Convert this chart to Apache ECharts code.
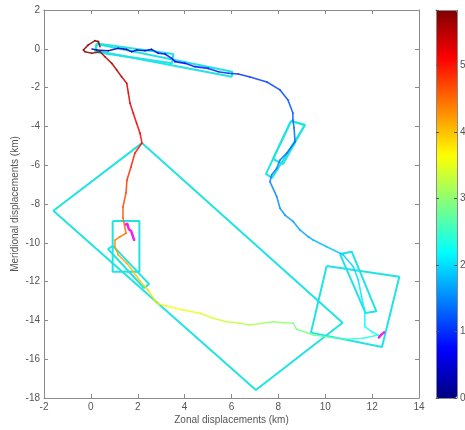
<!DOCTYPE html>
<html><head><meta charset="utf-8">
<script src="https://cdn.jsdelivr.net/npm/echarts@6/dist/echarts.min.js"></script>
<style>html,body{margin:0;padding:0;background:#fff}#c{width:465px;height:430px}</style>
</head><body><div id="c"></div>
<script>
// Trajectory (km) and time (colour value)
const trajX = [0.05,0.25,0.74,1.17,1.53,1.74,1.95,2.31,2.59,2.88,3.16,3.45,3.59,4.02,4.44,5.01,5.44,5.86,6.29,
  6.79,7.51,8.07,8.41,8.62,8.62,8.67,8.71,8.35,8.07,7.93,7.71,7.64,7.93,8.07,8.28,8.64,8.92,9.28,9.49,10.06,10.63,
  10.77,11.20,11.41,11.55,11.69,11.69,11.98,12.26,
  11.62,10.91,10.20,9.49,8.78,8.64,8.21,7.78,7.36,6.79,6.36,5.79,5.22,4.66,3.94,3.23,2.81,2.44,2.10,1.81,1.53,1.17,1.03,1.03,1.24,1.50,
  1.37,1.37,1.50,1.54,1.71,1.88,2.18,2.10,1.95,1.81,1.67,1.60,1.53,1.31,1.10,0.89,0.60,0.39,
  0.04,-0.25,-0.32,-0.11,0.18,0.32,0.39];
const trajY = [-0.01,-0.06,-0.10,0.03,-0.03,-0.15,-0.06,-0.10,-0.03,-0.23,-0.27,-0.49,-0.66,-0.75,-0.92,-1.01,-1.18,-1.26,-1.30,
  -1.45,-1.71,-2.12,-2.64,-3.31,-3.67,-4.08,-4.79,-5.39,-5.73,-6.16,-6.51,-6.85,-7.62,-8.22,-8.57,-8.91,-9.34,-9.69,-9.86,-10.20,-10.54,
  -10.63,-11.23,-11.92,-12.78,-13.55,-14.32,-14.58,-14.75,
  -14.92,-14.97,-14.87,-14.75,-14.46,-14.15,-14.12,-14.07,-14.15,-14.24,-14.15,-14.07,-13.89,-13.63,-13.46,-13.26,-13.12,-12.43,-11.97,-11.49,-11.06,-10.63,-10.20,-9.86,-9.69,-9.51,
  -8.72,-8.15,-7.43,-6.76,-6.09,-5.37,-4.86,-4.36,-3.84,-3.32,-2.81,-2.29,-1.78,-1.44,-1.09,-0.75,-0.41,-0.15,
  -0.23,-0.15,-0.06,0.20,0.42,0.37,0.11];
const trajT = [2,2.5,3,3.5,4,4.4,4.8,5.2,5.6,6,6.4,6.8,7.1,7.5,8,8.5,9,9.5,10,
  10.4,10.8,11.2,11.6,12,12.3,12.6,13,13.3,13.6,14,14.3,14.5,15,15.4,15.8,16.2,16.6,17,17.3,18,18.7,
  19,19.5,20,20.6,21.2,21.8,22.5,23,
  24,25.5,27,28,29,29.5,30,30.5,31,31.8,32.5,33.3,34,34.8,35.5,36.5,37.5,38.5,39.5,40.5,41.3,42,42.8,43.5,44,44.5,
  46,46.8,47.5,48.2,49,49.7,50.3,51,51.6,52.2,52.8,53.4,54,54.5,55,55.5,56,56.5,
  57,57.3,57.5,57.8,58,58.1,58.2];

// Rotated boxes (corners, km)
const boxes = [
  [[0.25,0.28],[3.52,-0.27],[3.46,-0.75],[0.18,-0.16]],
  [[0.25,0.25],[6.03,-1.18],[6.01,-1.44],[0.22,-0.10]],
  [[8.54,-3.72],[9.13,-3.93],[7.73,-6.66],[7.47,-6.45]],
  [[8.54,-3.72],[9.13,-3.93],[8.20,-5.94],[7.77,-5.68]],
  [[2.18,-4.86],[10.74,-14.12],[7.04,-17.59],[-1.60,-8.35]],
  [[0.93,-8.88],[2.07,-8.88],[2.07,-11.49],[0.93,-11.49]],
  [[0.94,-10.16],[2.48,-12.12],[2.27,-12.33],[0.73,-10.32]],
  [[10.06,-11.20],[13.16,-11.75],[12.42,-15.37],[9.39,-14.63]],
  [[10.63,-10.58],[11.13,-10.46],[12.18,-13.53],[11.72,-13.62]]
];
// Magenta markers
const mark1 = [[1.46,-9.08],[1.55,-9.0],[1.62,-9.3],[1.72,-9.4],[1.80,-9.7],[1.86,-9.9]];
const mark2 = [[12.26,-14.92],[12.40,-14.72],[12.55,-14.58]];

const xTicks = {min:-2, max:14, interval:2};
const yTicks = {min:-18, max:2, interval:2};
const cbarMax = 58.3;
const jet = ['#000080','#0000ff','#0080ff','#00ffff','#80ff80','#ffff00','#ff8000','#ff0000','#800000'];

const segs = [];
for (let i = 0; i < trajX.length - 1; i++) {
  segs.push([trajX[i], trajY[i], trajX[i+1], trajY[i+1], (trajT[i] + trajT[i+1]) / 2]);
}

const FONT = 'Liberation Sans, Arial, sans-serif';
const AX = '#8a8a8a';
const TXT = '#555';

const series = [{
  type: 'custom',
  xAxisIndex: 0, yAxisIndex: 0,
  data: segs,
  encode: {x: [0, 2], y: [1, 3]},
  renderItem: function (params, api) {
    const p1 = api.coord([api.value(0), api.value(1)]);
    const p2 = api.coord([api.value(2), api.value(3)]);
    return {type: 'line', shape: {x1: p1[0], y1: p1[1], x2: p2[0], y2: p2[1]},
      style: {stroke: api.visual('color'), lineWidth: 1.6, lineCap: 'round', opacity: 0.85}};
  },
  z: 3
}];
boxes.forEach(b => {
  series.push({type: 'line', xAxisIndex: 0, yAxisIndex: 0, data: b.concat([b[0]]), showSymbol: false,
    lineStyle: {color: '#20e4e4', width: 2}, z: 2, silent: true});
});
[mark1, mark2].forEach(m => {
  series.push({type: 'line', xAxisIndex: 0, yAxisIndex: 0, data: m, showSymbol: false,
    lineStyle: {color: '#ee22ee', width: 2.5}, z: 4, silent: true});
});

const base = {color: TXT, fontSize: 10, fontFamily: FONT};
const xLbl = Object.assign({margin: 4, alignMinLabel: 'center', alignMaxLabel: 'center'}, base);
const yLbl = Object.assign({margin: 4, verticalAlignMinLabel: 'middle', verticalAlignMaxLabel: 'middle'}, base);

const chart = echarts.init(document.getElementById('c'), null, {renderer: 'canvas'});
chart.setOption({
  animation: false,
  backgroundColor: '#fff',
  textStyle: {fontFamily: FONT},
  grid: [
    {left: 44, top: 10, width: 375, height: 388, containLabel: false, outerBoundsMode: 'none'},
    {left: 436, top: 10, width: 21, height: 388, containLabel: false, outerBoundsMode: 'none'}
  ],
  xAxis: [
    {gridIndex: 0, type: 'value', position: 'bottom', min: xTicks.min, max: xTicks.max, interval: xTicks.interval,
      name: 'Zonal displacements (km)', nameLocation: 'middle', nameGap: 17, nameMoveOverlap: false,
      nameTextStyle: {color: TXT, fontSize: 10, fontFamily: FONT},
      axisLine: {onZero: false, lineStyle: {color: AX}}, axisTick: {inside: true, length: 4, lineStyle: {color: AX}},
      axisLabel: xLbl, splitLine: {show: false}},
    {gridIndex: 0, type: 'value', position: 'top', min: xTicks.min, max: xTicks.max, interval: xTicks.interval,
      axisLine: {onZero: false, lineStyle: {color: AX}}, axisTick: {inside: true, length: 4, lineStyle: {color: AX}},
      axisLabel: {show: false}, splitLine: {show: false}},
    {gridIndex: 1, type: 'value', position: 'bottom', min: 0, max: 1, z: 10,
      axisLine: {onZero: false, lineStyle: {color: AX}}, axisTick: {show: false}, axisLabel: {show: false}, splitLine: {show: false}},
    {gridIndex: 1, type: 'value', position: 'top', min: 0, max: 1, z: 10,
      axisLine: {onZero: false, lineStyle: {color: AX}}, axisTick: {show: false}, axisLabel: {show: false}, splitLine: {show: false}}
  ],
  yAxis: [
    {gridIndex: 0, type: 'value', position: 'left', min: yTicks.min, max: yTicks.max, interval: yTicks.interval,
      name: 'Meridional displacements (km)', nameLocation: 'middle', nameGap: 24, nameRotate: 90, nameMoveOverlap: false,
      nameTextStyle: {color: TXT, fontSize: 10, fontFamily: FONT},
      axisLine: {onZero: false, lineStyle: {color: AX}}, axisTick: {inside: true, length: 4, lineStyle: {color: AX}},
      axisLabel: yLbl, splitLine: {show: false}},
    {gridIndex: 0, type: 'value', position: 'right', min: yTicks.min, max: yTicks.max, interval: yTicks.interval,
      axisLine: {onZero: false, lineStyle: {color: AX}}, axisTick: {inside: true, length: 4, lineStyle: {color: AX}},
      axisLabel: {show: false}, splitLine: {show: false}},
    {gridIndex: 1, type: 'value', position: 'right', min: 0, max: cbarMax, interval: 10, z: 10,
      axisLine: {onZero: false, lineStyle: {color: AX}}, axisTick: {inside: true, length: 3, lineStyle: {color: '#555'}},
      axisLabel: Object.assign({}, yLbl, {margin: 3, showMaxLabel: false}), splitLine: {show: false}},
    {gridIndex: 1, type: 'value', position: 'left', min: 0, max: cbarMax, interval: 10, z: 10,
      axisLine: {onZero: false, lineStyle: {color: AX}}, axisTick: {inside: true, length: 3, lineStyle: {color: '#555'}},
      axisLabel: {show: false}, splitLine: {show: false}}
  ],
  visualMap: {
    type: 'continuous', seriesIndex: 0, dimension: 4, min: 0, max: cbarMax,
    left: 436, top: 10, itemWidth: 21, itemHeight: 388, padding: 0,
    calculable: false, hoverLink: false, realtime: false,
    inRange: {color: jet}
  },
  series: series
});
</script></body></html>
